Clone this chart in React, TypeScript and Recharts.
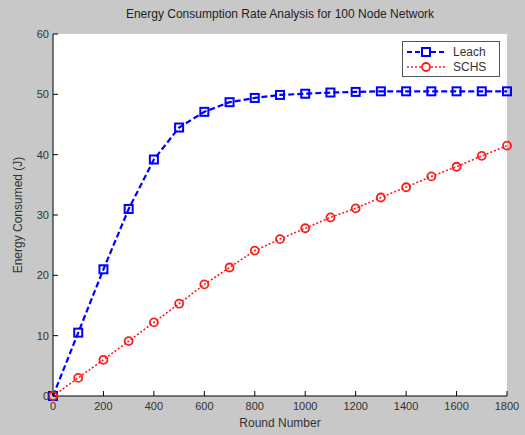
import { LineChart, Line, XAxis, YAxis, CartesianGrid } from 'recharts'

const rounds = [0, 100, 200, 300, 400, 500, 600, 700, 800, 900, 1000, 1100, 1200, 1300, 1400, 1500, 1600, 1700, 1800]
const leach = [0, 10.5, 21, 31, 39.2, 44.5, 47.1, 48.7, 49.4, 49.9, 50.1, 50.3, 50.4, 50.5, 50.5, 50.5, 50.5, 50.5, 50.5]
const schs = [0, 3, 6, 9.1, 12.2, 15.3, 18.5, 21.3, 24.1, 26.0, 27.8, 29.6, 31.1, 32.9, 34.6, 36.4, 38.0, 39.8, 41.5]
const xTicks = [0, 200, 400, 600, 800, 1000, 1200, 1400, 1600, 1800]
const yTicks = [0, 10, 20, 30, 40, 50, 60]

const data = rounds.map((r, i) => ({ round: r, leach: leach[i], schs: schs[i] }))

const BLUE = '#0000ff'
const RED = '#ff1a1a'
const FONT = '"Liberation Sans", Arial, sans-serif'

const SquareDot = (props: any) => {
  const { cx, cy, index } = props
  if (cx == null || cy == null) return <g key={index} />
  return <rect key={index} x={cx - 4} y={cy - 4} width={8} height={8} fill="none" stroke={BLUE} strokeWidth={2} />
}

const CircleDot = (props: any) => {
  const { cx, cy, index } = props
  if (cx == null || cy == null) return <g key={index} />
  return <circle key={index} cx={cx} cy={cy} r={4} fill="none" stroke={RED} strokeWidth={1.8} />
}

// legend drawn by hand, sits in the top right corner of the axes
const LegendBox = () => (
  <div
    style={{
      position: 'absolute',
      top: 41,
      left: 402,
      border: '1px solid #555',
      background: '#fff',
      width: 96,
      padding: '2px 0',
      fontFamily: FONT,
      fontSize: 12,
      color: '#333'
    }}
  >
    <div style={{ display: 'flex', alignItems: 'center', height: 15 }}>
      <svg width={48} height={14}>
        <line x1={4} y1={7} x2={42} y2={7} stroke={BLUE} strokeWidth={2} strokeDasharray="5 3" />
        <rect x={19} y={3} width={8} height={8} fill="#fff" stroke={BLUE} strokeWidth={2} />
      </svg>
      <span style={{ marginLeft: 2 }}>Leach</span>
    </div>
    <div style={{ display: 'flex', alignItems: 'center', height: 15 }}>
      <svg width={48} height={14}>
        <line x1={4} y1={7} x2={42} y2={7} stroke={RED} strokeWidth={1.5} strokeDasharray="2 2" />
        <circle cx={23} cy={7} r={4} fill="#fff" stroke={RED} strokeWidth={1.8} />
      </svg>
      <span style={{ marginLeft: 2 }}>SCHS</span>
    </div>
  </div>
)

export default function App() {
  const tickStyle = { fontSize: 11, fill: '#333', fontFamily: FONT }
  const textStyle = { fontFamily: FONT, fontSize: 12, color: '#333' }
  return (
    <div style={{ position: 'absolute', left: 0, top: 0, width: 525, height: 435, background: '#c8c8c8' }}>
      <div style={{ ...textStyle, position: 'absolute', top: 7, left: 53, width: 454, textAlign: 'center', color: '#222' }}>
        Energy Consumption Rate Analysis for 100 Node Network
      </div>
      <div style={{ ...textStyle, position: 'absolute', top: 416, left: 53, width: 454, textAlign: 'center' }}>
        Round Number
      </div>
      <div
        style={{
          ...textStyle,
          position: 'absolute',
          left: 18,
          top: 215,
          width: 200,
          textAlign: 'center',
          transform: 'translate(-50%, -50%) rotate(-90deg)'
        }}
      >
        Energy Consumed (J)
      </div>
      <LineChart width={525} height={435} data={data} margin={{ top: 34, right: 18, bottom: 19, left: 23 }}>
        <CartesianGrid fill="#fff" horizontal={false} vertical={false} />
        <XAxis
          xAxisId="bottom"
          dataKey="round"
          type="number"
          domain={[0, 1800]}
          ticks={xTicks}
          height={20}
          tickSize={-5}
          tickMargin={11}
          axisLine={{ stroke: '#000' }}
          tickLine={{ stroke: '#000' }}
          tick={tickStyle}
        />
        <XAxis
          xAxisId="top"
          orientation="top"
          dataKey="round"
          type="number"
          domain={[0, 1800]}
          ticks={xTicks}
          height={0}
          tickSize={-5}
          tickFormatter={() => ''}
          axisLine={{ stroke: '#000' }}
          tickLine={{ stroke: '#000' }}
        />
        <YAxis
          yAxisId="left"
          domain={[0, 60]}
          ticks={yTicks}
          width={30}
          tickSize={-5}
          tickMargin={9}
          axisLine={{ stroke: '#000' }}
          tickLine={{ stroke: '#000' }}
          tick={tickStyle}
        />
        <YAxis
          yAxisId="right"
          orientation="right"
          domain={[0, 60]}
          ticks={yTicks}
          width={0}
          tickSize={-5}
          tickFormatter={() => ''}
          axisLine={{ stroke: '#000' }}
          tickLine={{ stroke: '#000' }}
        />
        <Line
          xAxisId="bottom"
          yAxisId="left"
          dataKey="leach"
          stroke={BLUE}
          strokeWidth={2.2}
          strokeDasharray="6 3"
          dot={SquareDot}
          isAnimationActive={false}
        />
        <Line
          xAxisId="bottom"
          yAxisId="left"
          dataKey="schs"
          stroke={RED}
          strokeWidth={1.6}
          strokeDasharray="2 2"
          dot={CircleDot}
          isAnimationActive={false}
        />
      </LineChart>
      <LegendBox />
    </div>
  )
}
